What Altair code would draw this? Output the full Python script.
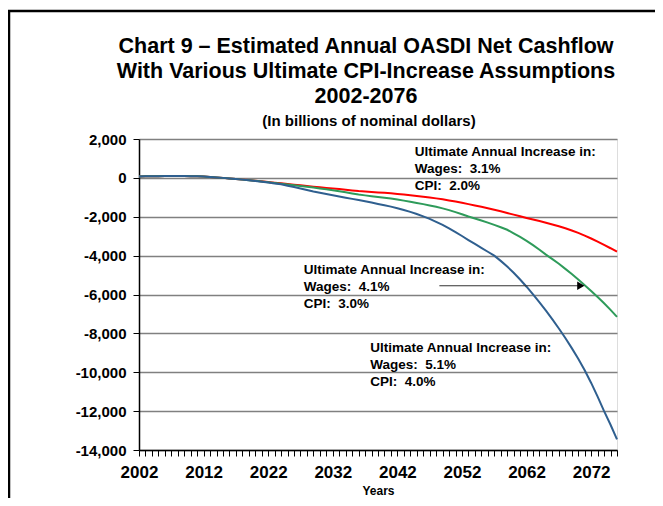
import altair as alt
import pandas as pd

years = list(range(2002, 2077))

common_early = [70, 80, 85, 90, 95, 100, 100, 95, 90, 80, 70, 50, 25, 0, -30, -60, -90]  # 2002-2018

red_late = [-115, -145, -175, -210, -245, -280, -315, -350, -385, -420, -455, -485, -515, -545, -575,
            -610, -645, -680, -705, -730, -750, -770, -795, -825, -860, -895, -930, -970, -1010, -1055,
            -1100, -1160, -1220, -1285, -1350, -1420, -1490, -1560, -1640, -1720, -1805, -1890, -1975,
            -2060, -2140, -2220, -2305, -2395, -2490, -2595, -2705, -2830, -2970, -3120, -3280, -3450,
            -3620, -3800]
green_late = [-120, -150, -185, -220, -260, -300, -340, -380, -420, -460, -500, -545, -590, -635, -690,
              -740, -800, -860, -900, -940, -980, -1020, -1060, -1110, -1170, -1230, -1290, -1350, -1420,
              -1490, -1570, -1660, -1760, -1870, -1990, -2090, -2190, -2300, -2420, -2540, -2670, -2850,
              -3040, -3240, -3460, -3700, -3950, -4180, -4420, -4680, -4950, -5230, -5520, -5820, -6130,
              -6450, -6790, -7150]
blue_late = [-125, -160, -200, -240, -285, -330, -400, -470, -550, -625, -700, -760, -830, -895, -960,
             -1020, -1080, -1140, -1200, -1270, -1340, -1410, -1480, -1560, -1650, -1750, -1860, -1980,
             -2110, -2260, -2420, -2600, -2790, -2990, -3200, -3400, -3600, -3800, -4000, -4270, -4560,
             -4880, -5230, -5600, -5990, -6400, -6830, -7280, -7750, -8240, -8760, -9300, -9900, -10550,
             -11250, -12000, -12700, -13450]

cpi20 = common_early + red_late
cpi30 = common_early + green_late
cpi40 = common_early + blue_late

series_names = ["CPI 2.0%", "CPI 3.0%", "CPI 4.0%"]
series_colors = ["#FF0000", "#2E9B5A", "#2F5F8F"]

y_ticks = [2000, 0, -2000, -4000, -6000, -8000, -10000, -12000, -14000]

title_lines = ["Chart 9 \u2013 Estimated Annual OASDI Net Cashflow",
               "With Various Ultimate CPI-Increase Assumptions", "2002-2076"]
subtitle_text = "(In billions of nominal dollars)"

NB = "\u00a0"
notes_year = [2044.7, 2027.5, 2037.8]
notes_value = [1330, -4720, -8740]
notes_lines = [
    ["Ultimate Annual Increase in:", "Wages:" + NB + " 3.1%", "CPI:" + NB + " 2.0%"],
    ["Ultimate Annual Increase in:", "Wages:" + NB + " 4.1%", "CPI:" + NB + " 3.0%"],
    ["Ultimate Annual Increase in:", "Wages:" + NB + " 5.1%", "CPI:" + NB + " 4.0%"],
]

arrow_from = 2048.5
arrow_to = 2070.4
arrow_value = -5550

rows = []
for name, vals in zip(series_names, [cpi20, cpi30, cpi40]):
    for yr, v in zip(years, vals):
        rows.append({"year": yr, "value": v, "series": name})
df = pd.DataFrame(rows)

note_rows = []
for yr, v, lines in zip(notes_year, notes_value, notes_lines):
    note_rows.append({"year": yr, "value": v, "text": lines})
notes_df = pd.DataFrame(note_rows)

arrow_df = pd.DataFrame({"year": [arrow_from], "year2": [arrow_to], "value": [arrow_value]})
head_df = pd.DataFrame({"year": [arrow_to], "value": [arrow_value]})

FONT = "Liberation Sans"
W, H = 478, 311

xscale = alt.Scale(domain=[2002, 2076], nice=False, zero=False)
yscale = alt.Scale(domain=[-14000, 2000], nice=False)

x_axis = alt.Axis(values=years, format="d",
                  labelExpr="(datum.value - 2002) % 10 == 0 ? datum.label : ''",
                  tickSize=6, tickColor="black", domainColor="black", domainWidth=1.5,
                  labelFont=FONT, labelFontWeight="bold", labelFontSize=17, labelColor="black",
                  labelPadding=8, labelOverlap=False, labelFlush=False,
                  titleFont=FONT, titleFontWeight="bold", titleFontSize=12, titleColor="black",
                  titlePadding=5, grid=False)
y_axis = alt.Axis(values=y_ticks, format=",d",
                  labelExpr="replace(datum.label, '\u2212', '-')",
                  tickSize=6, tickColor="black",
                  domainColor="black", domainWidth=1.5, labelOverlap=False,
                  labelFont=FONT, labelFontWeight="bold", labelFontSize=15, labelColor="black",
                  labelPadding=7, grid=True, gridColor="#808080", gridWidth=1.5)

x_main = alt.X("year:Q", scale=xscale, title="Years", axis=x_axis)
y_main = alt.Y("value:Q", scale=yscale, title=None, axis=y_axis)

lines = alt.Chart(df).mark_line(strokeWidth=2).encode(
    x=x_main, y=y_main,
    color=alt.Color("series:N", scale=alt.Scale(domain=series_names, range=series_colors), legend=None),
)

notes = alt.Chart(notes_df).mark_text(
    align="left", baseline="middle", font=FONT, fontWeight="bold", fontSize=13.5, lineHeight=17, color="black"
).encode(x=x_main, y=y_main, text="text")

arrow = alt.Chart(arrow_df).mark_rule(color="#333333", strokeWidth=1).encode(x=x_main, x2="year2:Q", y=y_main)
head = alt.Chart(head_df).mark_point(shape="triangle-right", filled=True, color="black", size=70, opacity=1).encode(
    x=x_main, y=y_main)

one = pd.DataFrame({"k": [0]})
title_y = [-92, -67, -42]
title_layers = []
for t, ty in zip(title_lines, title_y):
    title_layers.append(alt.Chart(one).mark_text(
        align="center", baseline="middle", font=FONT, fontWeight="bold", fontSize=21.5, color="black"
    ).encode(x=alt.value(227), y=alt.value(ty), text=alt.value(t)))
subtitle = alt.Chart(one).mark_text(
    align="center", baseline="middle", font=FONT, fontWeight="bold", fontSize=15, color="black"
).encode(x=alt.value(230), y=alt.value(-18), text=alt.value(subtitle_text))

frame_left = alt.Chart(one).mark_rule(color="black", strokeWidth=2.5).encode(
    x=alt.value(-130), y=alt.value(-128), y2=alt.value(400))
frame_top = alt.Chart(one).mark_rule(color="black", strokeWidth=2.5).encode(
    x=alt.value(-131), x2=alt.value(600), y=alt.value(-128))

chart = alt.layer(lines, notes, arrow, head, *title_layers, subtitle, frame_left, frame_top).properties(
    width=W, height=H,
    autosize=alt.AutoSizeParams(type="none"),
    padding={"left": 131, "top": 131, "right": 38, "bottom": 48},
).configure_view(stroke="black", strokeWidth=1.5).configure(background="white")

chart.save("out.html", embed_options={"renderer": "svg", "actions": False})
